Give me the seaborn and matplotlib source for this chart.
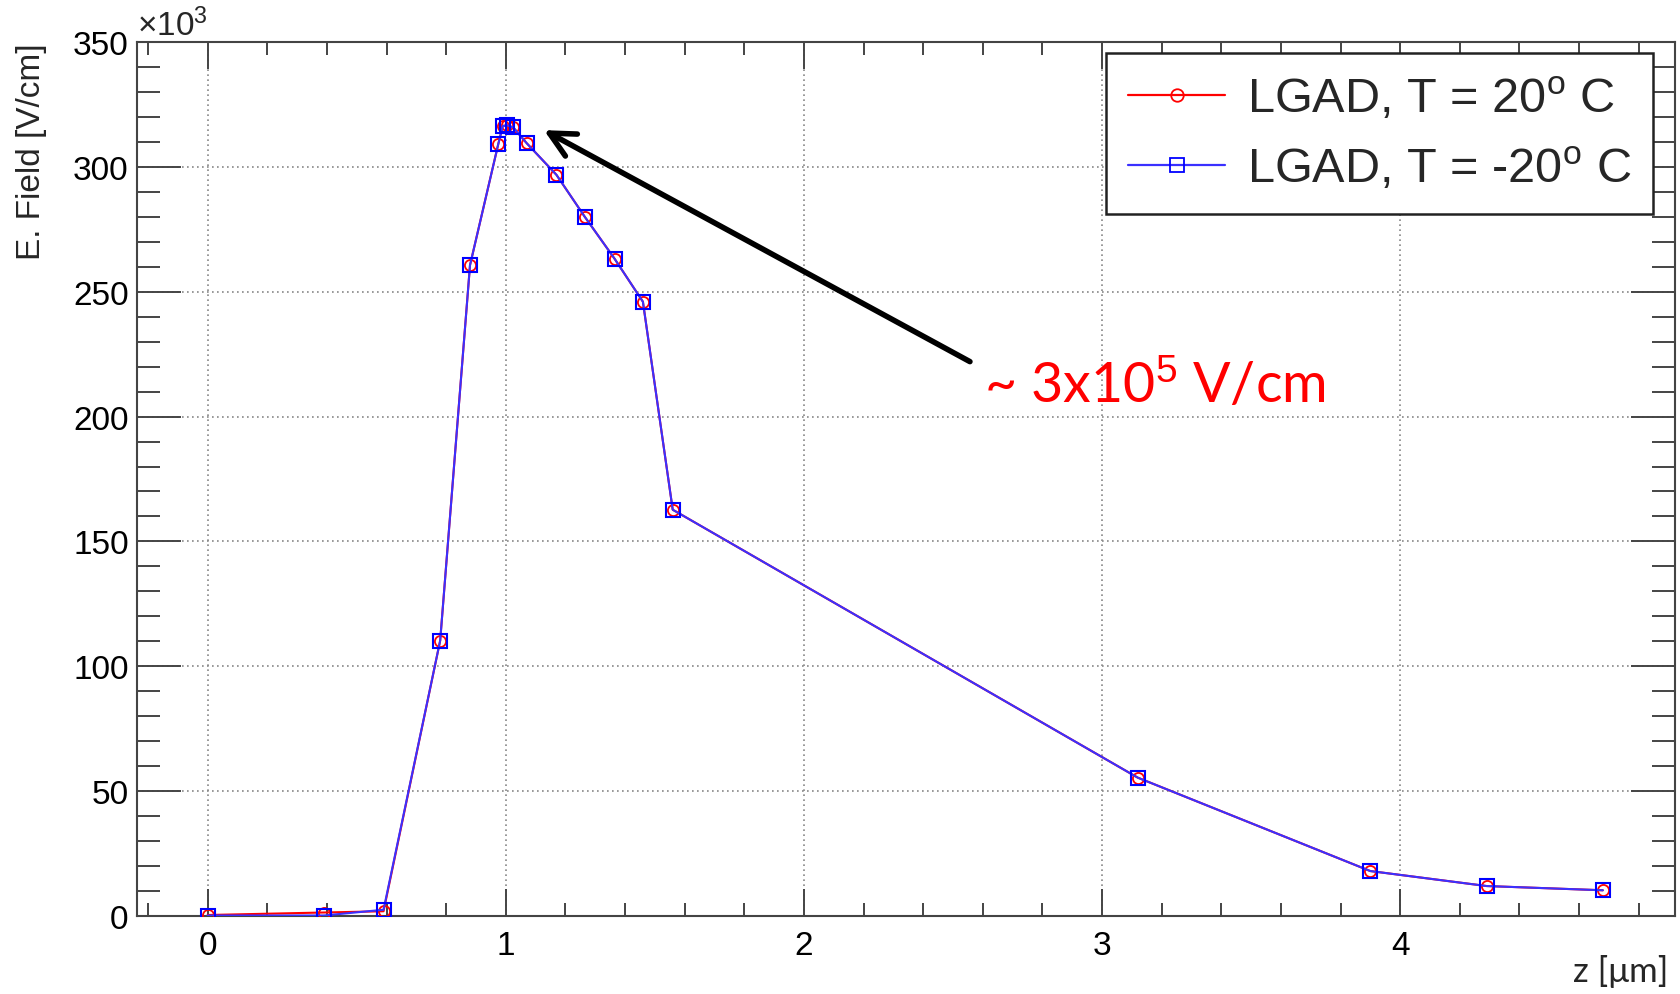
import matplotlib
matplotlib.use("Agg")
import matplotlib.pyplot as plt
import numpy as np
import pandas as pd
import seaborn as sns
from matplotlib.ticker import MultipleLocator
from matplotlib.lines import Line2D

# ---- data ----
z_um = [0.0, 0.39, 0.59, 0.78, 0.88, 0.975, 0.99, 1.005, 1.025, 1.07,
        1.17, 1.265, 1.365, 1.46, 1.56, 3.12, 3.90, 4.29, 4.68]
efield_p20 = [0.4, 1.4, 1.9, 110.3, 260.6, 309.2, 316.4, 316.6, 315.8, 309.5,
              296.8, 280.0, 263.2, 246.0, 162.7, 55.4, 18.0, 12.0, 10.3]
efield_m20 = [0.2, 0.2, 2.5, 110.3, 260.6, 309.2, 316.4, 316.6, 315.8, 309.5,
              296.8, 280.0, 263.2, 246.0, 162.7, 55.4, 18.0, 12.0, 10.3]
labels = [r"LGAD, T = 20$^{\mathrm{o}}$ C", r"LGAD, T = -20$^{\mathrm{o}}$ C"]
y_ticks = [0, 50, 100, 150, 200, 250, 300, 350]
x_ticks = [0, 1, 2, 3, 4]

sns.set_theme(style="ticks")
plt.rcParams["font.family"] = ["Liberation Sans", "DejaVu Sans"]
plt.rcParams["mathtext.fontset"] = "custom"
plt.rcParams["mathtext.rm"] = "Liberation Sans"
plt.rcParams["mathtext.it"] = "Liberation Sans:italic"

df_p = pd.DataFrame({"z": z_um, "E": efield_p20})
df_m = pd.DataFrame({"z": z_um, "E": efield_m20})

fig = plt.figure(figsize=(16.81, 9.95), dpi=100)
ax = fig.add_axes([137 / 1681, 1 - 917 / 995, 1538 / 1681, 874 / 995])

red = "#ff0000"
blue = "#3a30ff"
sns.lineplot(data=df_p, x="z", y="E", ax=ax, sort=False, color=red, lw=1.5,
             marker="o", markersize=8, markerfacecolor="none",
             markeredgecolor=red, markeredgewidth=1.3, zorder=3)
sns.lineplot(data=df_m, x="z", y="E", ax=ax, sort=False, color=blue, lw=1.5,
             marker="s", markersize=9.5, markerfacecolor="none",
             markeredgecolor="#0000ff", markeredgewidth=1.5, zorder=4)

ax.set_xlim(-0.237, 4.922)
ax.set_ylim(0, 350)
ax.set_xticks(x_ticks)
ax.set_yticks(y_ticks)
ax.xaxis.set_minor_locator(MultipleLocator(0.2))
ax.yaxis.set_minor_locator(MultipleLocator(10))

axc = "#444444"
for s in ax.spines.values():
    s.set_color(axc)
    s.set_linewidth(1.5)
    s.set_visible(True)
ax.tick_params(axis="both", which="both", direction="in", color=axc, width=1.4,
               top=True, right=True, labelsize=24, labelcolor="black")
ax.tick_params(axis="y", which="major", length=32, pad=6)
ax.tick_params(axis="y", which="minor", length=16.5)
ax.tick_params(axis="x", which="major", length=19.5, pad=10)
ax.tick_params(axis="x", which="minor", length=9.5)

ax.grid(True, which="major", color="#888888", linestyle=(0, (1, 2)), lw=1.2, zorder=0)
ax.set_axisbelow(True)

ax.set_ylabel("E. Field [V/cm]", fontsize=24, loc="top")
ax.yaxis.set_label_coords(-0.0585, 1.0)
ax.set_xlabel("z [μm]", fontsize=25, loc="right", family=["Lato", "DejaVu Sans"])
ax.xaxis.set_label_coords(0.996, -0.043)

ax.text(0.0, 1.0, r"$\times$10$^{3}$", transform=ax.transAxes, fontsize=24,
        ha="left", va="bottom")

handles = [
    Line2D([], [], color=red, lw=1.6, marker="o", markersize=9,
           markerfacecolor="none", markeredgecolor=red, markeredgewidth=1.3),
    Line2D([], [], color=blue, lw=1.6, marker="s", markersize=9.5,
           markerfacecolor="none", markeredgecolor="#0000ff", markeredgewidth=1.3),
]
leg = ax.legend(handles, labels, loc="upper right", bbox_to_anchor=(0.986, 0.987),
                borderaxespad=0, fontsize=35, handlelength=2.0, handletextpad=0.45,
                borderpad=0.45, labelspacing=0.5, frameon=True, fancybox=False,
                framealpha=1, edgecolor="#222222")
leg.get_frame().set_linewidth(1.8)

ax.annotate("", xy=(1.128, 314.7), xytext=(2.557, 222.0),
            arrowprops=dict(arrowstyle="->", lw=4, color="black", mutation_scale=45,
                            shrinkA=0, shrinkB=0), zorder=6)
ax.text(2.604, 213, r"~ 3x10$^{5}$ V/cm", color="red", fontsize=40,
        family=["Lato", "DejaVu Sans"], ha="left", va="center", zorder=6)

fig.savefig("out.png", dpi=100)
